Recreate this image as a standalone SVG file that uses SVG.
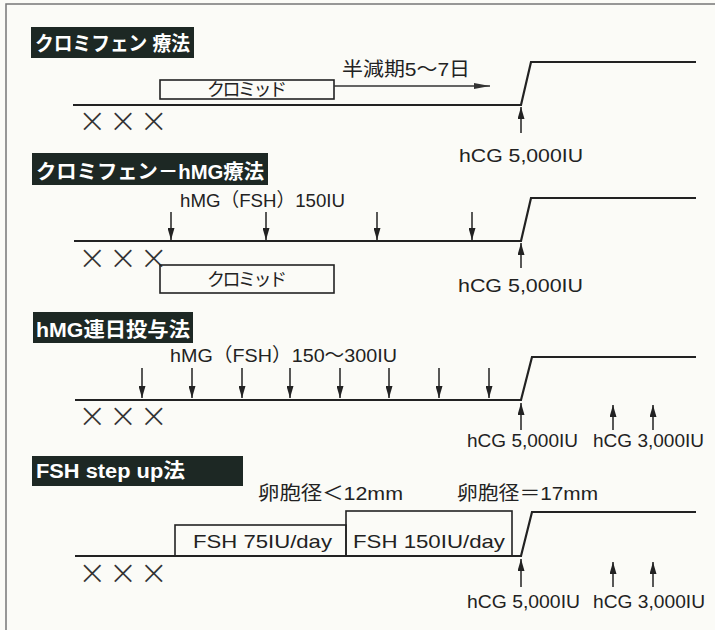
<svg xmlns="http://www.w3.org/2000/svg" width="715" height="630" viewBox="0 0 715 630">
<style>
.bg{fill:#fbfbf7}
.frame{stroke:#777;stroke-width:1.5;fill:none}
.hdr{fill:#1d2824}
.ht{fill:#fff;font-family:"Liberation Sans","Noto Sans CJK JP",sans-serif;font-weight:bold;font-size:20px}
.t{fill:#222;font-family:"Liberation Sans","Noto Sans CJK JP",sans-serif;font-size:19px}
.j{fill:#222;font-family:"Noto Sans CJK JP","Liberation Sans",sans-serif;font-size:18px}
.x{fill:#333;font-family:"DejaVu Sans",sans-serif;font-weight:200;font-size:34px}
.tl{stroke:#222;stroke-width:2.2;fill:none;stroke-linejoin:miter}
.box{stroke:#222;stroke-width:1.6;fill:none}
.ar{stroke:#222;stroke-width:1.5;fill:none;marker-end:url(#ah)}
.hl{stroke:#333;stroke-width:1.5;fill:none;marker-end:url(#ahl)}
</style>
<defs>
<marker id="ah" viewBox="0 0 10 10" refX="10" refY="5" markerWidth="12" markerHeight="7" orient="auto" markerUnits="userSpaceOnUse" preserveAspectRatio="none"><path d="M0,0 L10,5 L0,10 z" fill="#222"/></marker>
<marker id="ahl" viewBox="0 0 10 10" refX="10" refY="5" markerWidth="16" markerHeight="6" orient="auto" markerUnits="userSpaceOnUse" preserveAspectRatio="none"><path d="M0,0 L10,5 L0,10 z" fill="#333"/></marker>
</defs>
<rect class="bg" x="0" y="0" width="715" height="630"/>
<path class="frame" d="M6,630 V4 H715"/>

<g id="sec1">
<g id="h1"><rect class="hdr" x="31" y="27" width="163" height="31"/><text class="ht" x="35" y="51" textLength="155" lengthAdjust="spacingAndGlyphs">クロミフェン 療法</text></g>
<g id="box1"><rect class="box" x="160" y="80" width="174" height="19"/><text class="j" x="247" y="96" text-anchor="middle" textLength="80">クロミッド</text></g>
<g id="hl1"><text class="t" x="342" y="76" textLength="128" lengthAdjust="spacingAndGlyphs">半減期5〜7日</text></g>
<g id="x1"><text class="x" x="78" y="132" textLength="90" lengthAdjust="spacing">×××</text></g>
<g id="hcg1"><text class="t" x="459" y="162" textLength="124" lengthAdjust="spacingAndGlyphs">hCG 5,000IU</text></g>
</g>

<g id="sec2">
<g id="h2"><rect class="hdr" x="32" y="153" width="236" height="32"/><text class="ht" x="36" y="179" textLength="228" lengthAdjust="spacingAndGlyphs">クロミフェン－hMG療法</text></g>
<g id="lbl2"><text class="t" x="180" y="207" textLength="165" lengthAdjust="spacingAndGlyphs">hMG（FSH）150IU</text></g>
<g id="x2"><text class="x" x="78" y="269" textLength="90" lengthAdjust="spacing">×××</text></g>
<g id="box2"><rect class="box" x="160" y="265" width="174" height="28"/><text class="j" x="247" y="286" text-anchor="middle" textLength="80">クロミッド</text></g>
<g id="hcg2"><text class="t" x="458" y="292" textLength="125" lengthAdjust="spacingAndGlyphs">hCG 5,000IU</text></g>
</g>

<g id="sec3">
<g id="h3"><rect class="hdr" x="33" y="312" width="160" height="31"/><text class="ht" x="36" y="337" textLength="154" lengthAdjust="spacingAndGlyphs">hMG連日投与法</text></g>
<g id="lbl3"><text class="t" x="170" y="362" textLength="227" lengthAdjust="spacingAndGlyphs">hMG（FSH）150〜300IU</text></g>
<g id="x3"><text class="x" x="78" y="427" textLength="90" lengthAdjust="spacing">×××</text></g>
<g id="hcg3a"><text class="t" x="467" y="447" textLength="111" lengthAdjust="spacingAndGlyphs">hCG 5,000IU</text></g>
<g id="hcg3b"><text class="t" x="593" y="447" textLength="111" lengthAdjust="spacingAndGlyphs">hCG 3,000IU</text></g>
</g>

<g id="sec4">
<g id="h4"><rect class="hdr" x="32" y="456" width="211" height="30"/><text class="ht" x="36" y="478" textLength="149" lengthAdjust="spacingAndGlyphs">FSH step up法</text></g>
<g id="lbl4a"><text class="t" x="258" y="500" textLength="145" lengthAdjust="spacingAndGlyphs">卵胞径＜12mm</text></g>
<g id="lbl4b"><text class="t" x="457" y="500" textLength="141" lengthAdjust="spacingAndGlyphs">卵胞径＝17mm</text></g>
<g id="box4a"><rect class="box" x="175" y="525" width="171" height="31"/><text class="t" x="193" y="548" textLength="139" lengthAdjust="spacingAndGlyphs">FSH 75IU/day</text></g>
<g id="box4b"><rect class="box" x="346" y="511" width="166" height="45"/><text class="t" x="353" y="548" textLength="152" lengthAdjust="spacingAndGlyphs">FSH 150IU/day</text></g>
<g id="x4"><text class="x" x="78" y="584" textLength="90" lengthAdjust="spacing">×××</text></g>
<g id="hcg4a"><text class="t" x="467" y="608" textLength="113" lengthAdjust="spacingAndGlyphs">hCG 5,000IU</text></g>
<g id="hcg4b"><text class="t" x="593" y="608" textLength="112" lengthAdjust="spacingAndGlyphs">hCG 3,000IU</text></g>
</g>

<g id="connectors">
<path class="tl" d="M73,105 H521 L531,62 H696"/>
<line class="hl" x1="334" y1="86" x2="490" y2="86"/>
<line class="ar" x1="521" y1="133" x2="521" y2="107"/>

<path class="tl" d="M74,241 H521 L531,198 H696"/>
<line class="ar" x1="171" y1="212" x2="171" y2="240"/>
<line class="ar" x1="266" y1="212" x2="266" y2="240"/>
<line class="ar" x1="377" y1="212" x2="377" y2="240"/>
<line class="ar" x1="472" y1="212" x2="472" y2="240"/>
<line class="ar" x1="521" y1="268" x2="521" y2="243"/>

<path class="tl" d="M75,400 H521 L532,357 H696"/>
<line class="ar" x1="142" y1="368" x2="142" y2="398"/>
<line class="ar" x1="192" y1="368" x2="192" y2="398"/>
<line class="ar" x1="242" y1="368" x2="242" y2="398"/>
<line class="ar" x1="290" y1="368" x2="290" y2="398"/>
<line class="ar" x1="340" y1="368" x2="340" y2="398"/>
<line class="ar" x1="389" y1="368" x2="389" y2="398"/>
<line class="ar" x1="439" y1="368" x2="439" y2="398"/>
<line class="ar" x1="489" y1="368" x2="489" y2="398"/>
<line class="ar" x1="521" y1="430" x2="521" y2="403"/>
<line class="ar" x1="613" y1="430" x2="613" y2="405"/>
<line class="ar" x1="653" y1="430" x2="653" y2="405"/>

<path class="tl" d="M75,556 H521 L532,512 H696"/>
<line class="ar" x1="521" y1="587" x2="521" y2="559"/>
<line class="ar" x1="613" y1="587" x2="613" y2="562"/>
<line class="ar" x1="653" y1="587" x2="653" y2="562"/>
</g>
</svg>
